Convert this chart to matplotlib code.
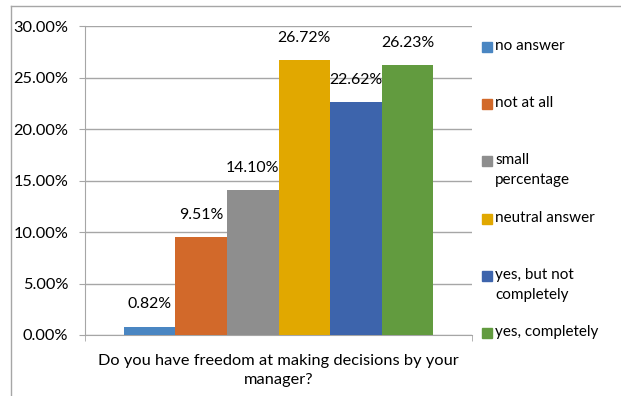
import matplotlib.pyplot as plt
from matplotlib.patches import Rectangle
from matplotlib.lines import Line2D
from matplotlib.ticker import FuncFormatter, MultipleLocator

# --- Data ---
answers = ['no answer', 'not at all', 'small\npercentage', 'neutral answer',
           'yes, but not\ncompletely', 'yes, completely']
shares = [0.82, 9.51, 14.10, 26.72, 22.62, 26.23]
colors = ['#4A86C2', '#D2692A', '#8E8E8E', '#E1A800', '#3D64AC', '#629B3F']
question = 'Do you have freedom at making decisions by your\nmanager?'

plt.rcParams['font.family'] = ['Lato', 'DejaVu Sans']
W, H = 621, 396
grid_col = '#A6A6A6'

fig = plt.figure(figsize=(W / 100, H / 100), dpi=100)
ax = fig.add_axes([85 / W, (H - 335) / H, (472 - 85) / W, (335 - 26) / H])

# --- Bars (Excel-style clustered, gap width 150%) ---
xs = list(range(len(shares)))
ax.bar(xs, shares, width=1.0, color=colors, zorder=3)
for x, v in zip(xs, shares):
    ax.annotate(f'{v:.2f}%', (x, v), xytext=(0, 16), textcoords='offset points',
                ha='center', va='center', fontsize=11.4, color='black', zorder=4)

ax.set_xlim(-1.25, len(shares) - 1 + 1.25)
ax.set_ylim(0, 30)
ax.yaxis.set_major_locator(MultipleLocator(5))
ax.yaxis.set_major_formatter(FuncFormatter(lambda v, _: f'{v:.2f}%'))
ax.grid(axis='y', color=grid_col, linewidth=1, zorder=0)

ax.set_xticks([(len(shares) - 1) / 2])
ax.set_xticklabels([question], fontsize=11.8, linespacing=1.45)
ax.set_xticks([-1.25, len(shares) - 1 + 1.25], minor=True)
ax.tick_params(axis='x', which='major', length=0, pad=14)
ax.tick_params(axis='x', which='minor', length=4, color=grid_col)
ax.tick_params(axis='y', length=4, color=grid_col, pad=8, labelsize=11.8)

for s in ('top', 'right'):
    ax.spines[s].set_visible(False)
for s in ('left', 'bottom'):
    ax.spines[s].set_color(grid_col)

# --- Legend, one entry every 57 px ---
for i, (lab, c) in enumerate(zip(answers, colors)):
    yc = 47 + i * 57.2
    fig.patches.append(Rectangle((482 / W, (H - yc - 5) / H), 10 / W, 10 / H,
                                 transform=fig.transFigure, color=c))
    fig.text(495 / W, (H - yc + 8) / H, lab, fontsize=11, va='top', ha='left',
             linespacing=1.55)

# --- Chart area border ---
fig.add_artist(Line2D([11 / W, 1], [(H - 6) / H] * 2, color=grid_col, lw=1))
fig.add_artist(Line2D([11 / W] * 2, [0, (H - 6) / H], color=grid_col, lw=1))

fig.savefig('out.png', dpi=100)
